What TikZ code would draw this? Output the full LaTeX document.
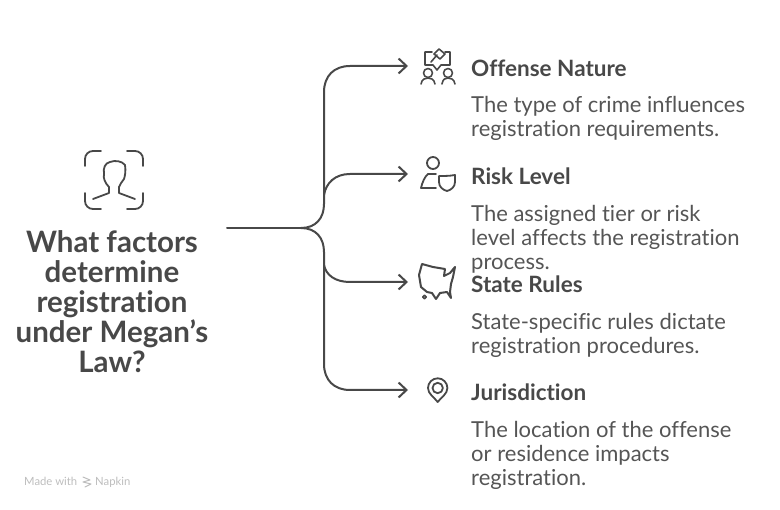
\documentclass[tikz,border=0pt]{standalone}
\usepackage{fontspec}
\setmainfont{Lato}[Ligatures=NoCommon]
\usetikzlibrary{arrows.meta, positioning}
\definecolor{ink}{HTML}{484848}
\definecolor{blurbink}{HTML}{555555}
\definecolor{faint}{HTML}{BDBDBD}

\begin{document}
\begin{tikzpicture}[x=1pt,y=-1pt,node distance=5pt,>={Straight Barb[length=8pt,width=15pt,line width=2pt]},
      link/.style={draw=ink,line width=2pt,line cap=round},
      glyph/.style={draw=ink,line width=1.8pt,line cap=round,line join=round},
      heading/.style={text=ink,anchor=west,inner sep=0pt,font=\fontsize{22.5}{24}\selectfont\bfseries},
      blurb/.style={text=blurbink,anchor=north west,align=left,inner sep=0pt,font=\fontsize{22}{24}\selectfont},
      question/.style={text=ink,align=center,inner sep=0pt,font=\fontsize{29.5}{30}\selectfont\bfseries},
      credit/.style={text=faint,inner sep=0pt,font=\fontsize{11.3}{13}\selectfont}]
      \useasboundingbox (0,0) rectangle (780,510);
      \node[question] (title) at (112,302) {What factors\\determine\\registration\\under Megan's\\Law?};
      \node[heading] (offense) at (471,68) {Offense Nature};
      \node[blurb, below=20pt of offense.south west, anchor=north west] (offensetext) {The type of crime influences\\registration requirements.};
      \node[heading] (risk) at (471,176) {Risk Level};
      \node[blurb, below=20pt of risk.south west, anchor=north west] (risktext) {The assigned tier or risk\\level affects the registration\\process.};
      \node[heading] (state) at (471,284) {State Rules};
      \node[blurb, below=20pt of state.south west, anchor=north west] (statetext) {State-specific rules dictate\\registration procedures.};
      \node[heading] (juris) at (471,392) {Jurisdiction};
      \node[blurb, below=20pt of juris.south west, anchor=north west] (juristext) {The location of the offense\\or residence impacts\\registration.};
      \node[credit, anchor=base west] (made) at (24,486) {Made with};
      \node[credit, anchor=base west] (napkin) at (95,486) {Napkin};

      \coordinate (stem) at (227,228);
      \coordinate (hub) at (301,228);
      \coordinate (offenseend) at (408,66);
      \coordinate (riskend) at (408,174);
      \coordinate (stateend) at (408,282);
      \coordinate (jurisend) at (408,390);
      \path[link] (stem) -- (hub);
      \path[link,->] (hub) .. controls (316,228) and (324,218) .. (324,204) -- (324,92) .. controls (324,76) and (334,66) .. (350,66) -- (offenseend);
      \path[link,->] (324,195) .. controls (326,183) and (335,174) .. (350,174) -- (riskend);
      \path[link,->] (324,265) .. controls (326,275) and (335,282) .. (350,282) -- (stateend);
      \path[link,->] (hub) .. controls (316,228) and (324,238) .. (324,252) -- (324,364) .. controls (324,380) and (334,390) .. (350,390) -- (jurisend);

      % person in a frame
      \draw[glyph] (85,166) -- (85,159) arc (180:270:8) -- (101,151);
      \draw[glyph] (127,151) -- (135,151) arc (270:360:8) -- (143,166);
      \draw[glyph] (85,193) -- (85,201) arc (180:90:8) -- (101,209);
      \draw[glyph] (127,209) -- (135,209) arc (90:0:8) -- (143,193);
      \draw[glyph] (93,199) -- (109,193) -- (109,187) .. controls (105,183) and (103,178) .. (104,174) .. controls (103,168) and (105,163) .. (110,162) .. controls (115,160) and (122,161) .. (125,165) .. controls (126,171) and (125,176) .. (124,179) .. controls (122,182) and (120,184) .. (119,187) -- (119,193) -- (135,199);

      % bubble with gavel and two people
      \draw[glyph,line width=1.6pt] (432,52) -- (425,52) -- (425,65) -- (433,65) -- (437,70) -- (441,65) -- (450,65) -- (450,52) -- (445,52);
      \draw[glyph,line width=1.6pt] (431,62) -- (437,55);
      \draw[glyph,line width=1.6pt] (434,54) -- (439,49) -- (445,54) -- (440,59) -- cycle;
      \draw[glyph,line width=1.6pt] (428,73) circle (4.5);
      \draw[glyph,line width=1.6pt] (448,73) circle (4.5);
      \draw[glyph,line width=1.6pt] (421,84) .. controls (422,79) and (425,78) .. (428,78) .. controls (431,78) and (434,79) .. (435,84);
      \draw[glyph,line width=1.6pt] (442,84) .. controls (443,79) and (445,78) .. (448,78) .. controls (451,78) and (454,79) .. (455,84);

      % person with shield
      \draw[glyph] (433,163) circle (6);
      \draw[glyph] (436,174) -- (428,174) .. controls (425,176) and (422,183) .. (421,188) -- (436,188);
      \draw[glyph] (439,176) .. controls (444,176) and (450,176) .. (455,175) -- (455,182) .. controls (455,187) and (451,190) .. (447,191) .. controls (443,190) and (439,187) .. (439,182) -- cycle;

      % map of the states
      \draw[glyph,line width=2pt] (422,264) -- (433,267) -- (445,269) -- (444,276) -- (450,273) -- (455,267) -- (453,277) -- (451,284) -- (450,292) -- (451,298) -- (447,292) -- (440,293) -- (436,299) -- (432,293) -- (427,292) -- (421,287) -- (419,275) -- cycle;
      \draw[glyph,line width=1.5pt] (424.5,297) circle (1.8);

      % map pin
      \draw[glyph] (437.7,402) .. controls (434,397) and (428,394) .. (428,388) arc (180:360:9.7) .. controls (447.4,394) and (441.4,397) .. (437.7,402) -- cycle;
      \draw[glyph] (437.7,388) circle (5.2);

      % napkin mark
      \draw[faint,line width=1pt,line cap=round,line join=round] (83,477) -- (90,480) -- (83,482) -- (91,484) -- (85,487);
\end{tikzpicture}
\end{document}
